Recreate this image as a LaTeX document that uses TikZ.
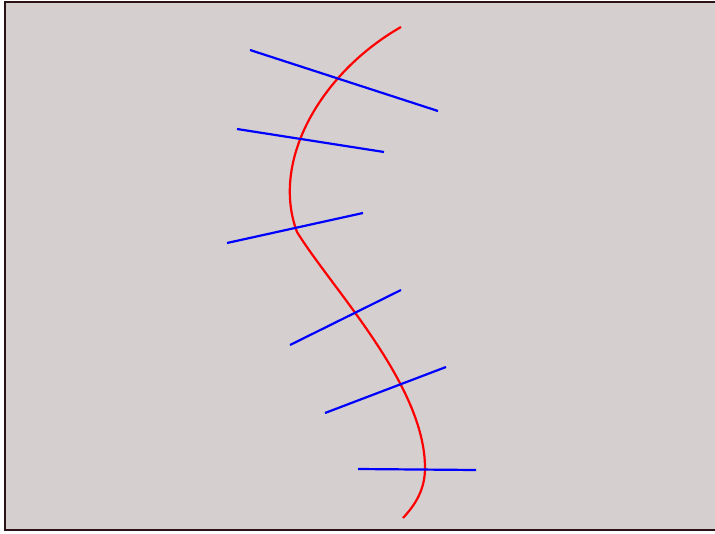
\documentclass[tikz,border=0pt]{standalone}
\begin{document}
\begin{tikzpicture}[x=1pt,y=-1pt,
  frame/.style={draw={rgb,255:red,42;green,18;blue,21},line width=2pt,fill={rgb,255:red,213;green,207;blue,208}},
  redcurve/.style={draw=red,line width=2.2pt},
  blueseg/.style={draw=blue,line width=2.2pt}]
\useasboundingbox (0,0) rectangle (715,533);
\path[frame] (5,2) rectangle (718,530);
\coordinate (b1a) at (250,50); \coordinate (b1b) at (438,111);
\coordinate (b2a) at (237,129); \coordinate (b2b) at (384,152);
\coordinate (b3a) at (227,243); \coordinate (b3b) at (363,213);
\coordinate (b4a) at (290,345); \coordinate (b4b) at (401,290);
\coordinate (b5a) at (325,413); \coordinate (b5b) at (446,367);
\coordinate (b6a) at (358,469); \coordinate (b6b) at (476,470);
\coordinate (r0) at (401,27); \coordinate (r1) at (297,232);
\coordinate (r2) at (425,468); \coordinate (r3) at (403,518);
\draw[redcurve] (r0) .. controls (322,72) and (270,160) .. (r1)
  .. controls (333,290) and (425,385) .. (r2)
  .. controls (425,490) and (415,505) .. (r3);
\draw[blueseg] (b1a) -- (b1b);
\draw[blueseg] (b2a) -- (b2b);
\draw[blueseg] (b3a) -- (b3b);
\draw[blueseg] (b4a) -- (b4b);
\draw[blueseg] (b5a) -- (b5b);
\draw[blueseg] (b6a) -- (b6b);
\end{tikzpicture}
\end{document}
